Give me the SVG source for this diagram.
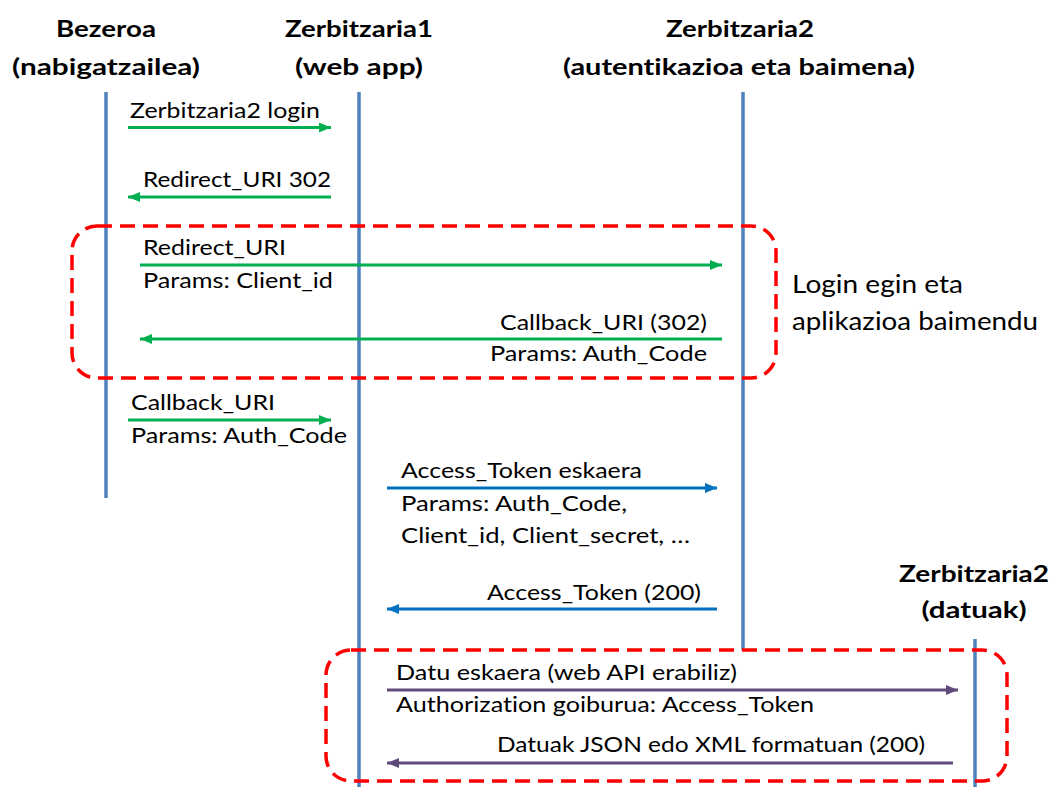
<svg xmlns="http://www.w3.org/2000/svg" width="1052" height="787" viewBox="0 0 1052 787">
<style>
text{font-family:Lato,"Open Sans","Liberation Sans",sans-serif;fill:#000;font-variant-ligatures:none}
.t{font-size:23px;font-weight:bold;text-anchor:middle}
.l{font-size:22px}
.r{font-size:22px;text-anchor:end}
.n{font-size:24.5px}
.life{stroke:#4f81bd;stroke-width:3.5;fill:none}
.g{stroke:#00b050;stroke-width:2.8;fill:none;marker-end:url(#ag)}
.b{stroke:#0070c0;stroke-width:2.8;fill:none;marker-end:url(#ab)}
.p{stroke:#604a7b;stroke-width:2.8;fill:none;marker-end:url(#ap)}
.box{fill:none;stroke:#ff0000;stroke-width:3.5;stroke-dasharray:15 8}
</style>
<defs>
<marker id="ag" markerUnits="userSpaceOnUse" markerWidth="13" markerHeight="11" refX="12" refY="5" orient="auto"><path d="M0,0 L12,5 L0,10 z" fill="#00b050"/></marker>
<marker id="ab" markerUnits="userSpaceOnUse" markerWidth="13" markerHeight="11" refX="12" refY="5" orient="auto"><path d="M0,0 L12,5 L0,10 z" fill="#0070c0"/></marker>
<marker id="ap" markerUnits="userSpaceOnUse" markerWidth="13" markerHeight="11" refX="12" refY="5" orient="auto"><path d="M0,0 L12,5 L0,10 z" fill="#604a7b"/></marker>
</defs>
<rect width="1052" height="787" fill="#fff"/>
<g id="bezeroa">
<text class="t" x="106" y="37" textLength="100" lengthAdjust="spacingAndGlyphs">Bezeroa</text>
<text class="t" x="106" y="75" textLength="188" lengthAdjust="spacingAndGlyphs">(nabigatzailea)</text>
<line class="life" x1="106" y1="92" x2="106" y2="498"/>
</g>
<g id="zerbitzaria1">
<text class="t" x="359" y="37" textLength="148" lengthAdjust="spacingAndGlyphs">Zerbitzaria1</text>
<text class="t" x="359" y="75" textLength="128" lengthAdjust="spacingAndGlyphs">(web app)</text>
<line class="life" x1="359" y1="92" x2="359" y2="787"/>
</g>
<g id="zerbitzaria2-auth">
<text class="t" x="740" y="37" textLength="148" lengthAdjust="spacingAndGlyphs">Zerbitzaria2</text>
<text class="t" x="739" y="75" textLength="352" lengthAdjust="spacingAndGlyphs">(autentikazioa eta baimena)</text>
<line class="life" x1="743" y1="92" x2="743" y2="650"/>
</g>
<g id="zerbitzaria2-datuak">
<text class="t" x="974" y="582" textLength="150" lengthAdjust="spacingAndGlyphs">Zerbitzaria2</text>
<text class="t" x="974" y="618" textLength="105" lengthAdjust="spacingAndGlyphs">(datuak)</text>
<line class="life" x1="975" y1="639" x2="975" y2="787"/>
</g>
<g id="group-login">
<rect class="box" x="72" y="226" width="704" height="152" rx="25"/>
<text class="n" x="792" y="293" textLength="171" lengthAdjust="spacingAndGlyphs">Login egin eta</text>
<text class="n" x="792" y="330" textLength="246" lengthAdjust="spacingAndGlyphs">aplikazioa baimendu</text>
</g>
<g id="group-data">
<rect class="box" x="326" y="650" width="681" height="131" rx="25"/>
</g>
<g id="connectors">
<line class="g" x1="128" y1="127.5" x2="331" y2="127.5"/>
<line class="g" x1="331" y1="197" x2="128" y2="197"/>
<line class="g" x1="140" y1="265" x2="722" y2="265"/>
<line class="g" x1="722" y1="339" x2="140" y2="339"/>
<line class="g" x1="128" y1="420" x2="331" y2="420"/>
<line class="b" x1="387" y1="488" x2="717" y2="488"/>
<line class="b" x1="717" y1="609" x2="387" y2="609"/>
<line class="p" x1="387" y1="690" x2="958" y2="690"/>
<line class="p" x1="953" y1="763" x2="387" y2="763"/>
</g>
<g id="labels">
<text class="l" x="130" y="118" textLength="190" lengthAdjust="spacingAndGlyphs">Zerbitzaria2 login</text>
<text class="l" x="143" y="187" textLength="188" lengthAdjust="spacingAndGlyphs">Redirect_URI 302</text>
<text class="l" x="143" y="255" textLength="143" lengthAdjust="spacingAndGlyphs">Redirect_URI</text>
<text class="l" x="143" y="288" textLength="190" lengthAdjust="spacingAndGlyphs">Params: Client_id</text>
<text class="r" x="707" y="330" textLength="207" lengthAdjust="spacingAndGlyphs">Callback_URI (302)</text>
<text class="r" x="707" y="361" textLength="217" lengthAdjust="spacingAndGlyphs">Params: Auth_Code</text>
<text class="l" x="131" y="410" textLength="144" lengthAdjust="spacingAndGlyphs">Callback_URI</text>
<text class="l" x="131" y="443" textLength="216" lengthAdjust="spacingAndGlyphs">Params: Auth_Code</text>
<text class="l" x="401" y="478" textLength="241" lengthAdjust="spacingAndGlyphs">Access_Token eskaera</text>
<text class="l" x="401" y="511" textLength="226" lengthAdjust="spacingAndGlyphs">Params: Auth_Code,</text>
<text class="l" x="401" y="543" textLength="289" lengthAdjust="spacingAndGlyphs">Client_id, Client_secret, …</text>
<text class="r" x="701" y="600" textLength="214" lengthAdjust="spacingAndGlyphs">Access_Token (200)</text>
<text class="l" x="396" y="680" textLength="341" lengthAdjust="spacingAndGlyphs">Datu eskaera (web API erabiliz)</text>
<text class="l" x="396" y="712" textLength="418" lengthAdjust="spacingAndGlyphs">Authorization goiburua: Access_Token</text>
<text class="r" x="925" y="752" textLength="428" lengthAdjust="spacingAndGlyphs">Datuak JSON edo XML formatuan (200)</text>
</g>
</svg>
